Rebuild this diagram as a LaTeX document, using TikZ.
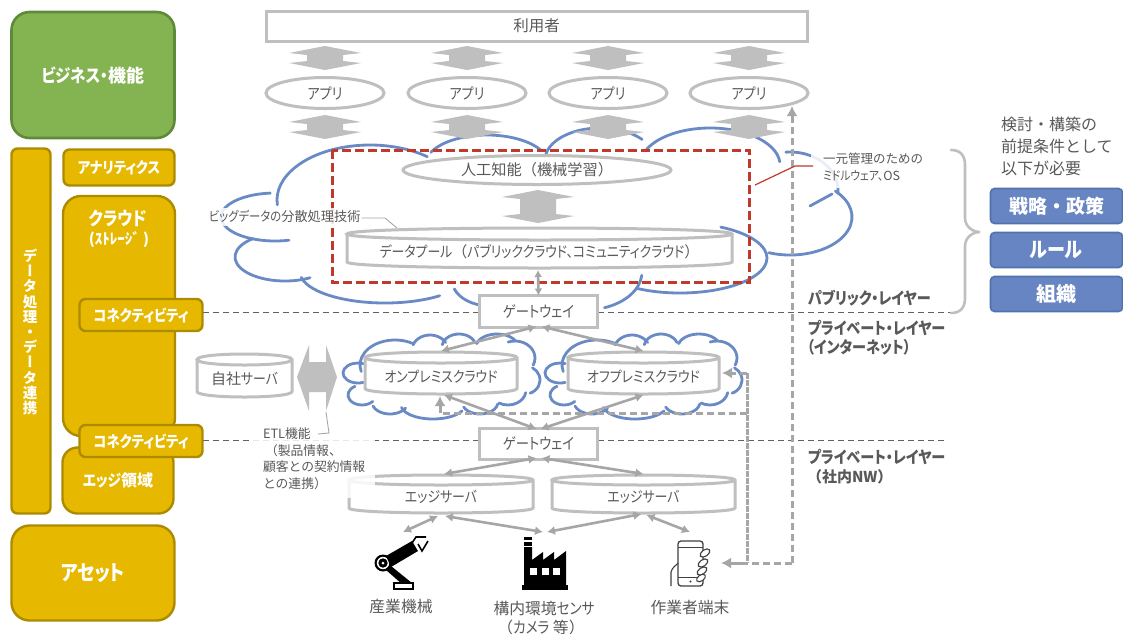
\documentclass[tikz,border=0pt]{standalone}
\usepackage{fontspec}
\usetikzlibrary{arrows.meta,calc,shapes.geometric}
\setmainfont{Noto Sans CJK JP}
\newfontfamily\kn[FakeStretch=0.86,RawFeature=+palt]{Noto Sans CJK JP}
\newfontfamily\vjp[RawFeature=+vert]{Noto Sans CJK JP}
\definecolor{txt}{HTML}{595959}
\definecolor{lgray}{HTML}{BFBFBF}
\definecolor{agray}{HTML}{A6A6A6}
\definecolor{gold}{HTML}{E6B800}
\definecolor{goldb}{HTML}{AD8B00}
\definecolor{grn}{HTML}{84B351}
\definecolor{grnb}{HTML}{5F8A3A}
\definecolor{cblue}{HTML}{6A8AC6}
\definecolor{bluef}{HTML}{6685C2}
\definecolor{blueb}{HTML}{5272AE}
\definecolor{redd}{HTML}{C0392B}
\tikzset{
  x=1pt,y=-1pt,
  every node/.style={inner sep=0pt,outer sep=0pt,text=txt},
  lab/.style={font=\fontsize{15.8}{19}\selectfont,align=center},
  gbox/.style={draw=lgray,line width=3pt,fill=white,font=\fontsize{15.5}{19}\selectfont},
  gell/.style={ellipse,draw=lgray,line width=3pt,fill=white,font=\fontsize{15.2}{19}\selectfont},
  yel/.style={draw=goldb,line width=2.4pt,fill=gold,rounded corners=6pt,text=white,font=\bfseries\fontsize{16}{18}\selectfont,align=center},
  bluebox/.style={draw=blueb,line width=1.6pt,fill=bluef,rounded corners=4pt,text=white,font=\bfseries\fontsize{19}{20}\selectfont,minimum width=132pt,minimum height=35pt},
  cloudline/.style={draw=cblue,line width=2.8pt,line cap=round},
  conn/.style={draw=agray,line width=2.6pt,{Latex[length=8pt,width=9pt]}-{Latex[length=8pt,width=9pt]}},
  dashg/.style={draw=agray,line width=3pt,dash pattern=on 7pt off 4pt},
  layer/.style={draw=black!62,line width=1pt,dash pattern=on 6pt off 4pt},
  lay/.style={font=\bfseries\fontsize{15}{18}\selectfont,anchor=west},
  note/.style={font=\fontsize{12.5}{16}\selectfont,align=left},
  blk/.style={fill=lgray,draw=none},
}
\newcommand{\cyl}[7]{%
  \path[fill=white,draw=lgray,line width=3pt]
    (#2,#3+#6/2) -- (#2,#5-#6/2) .. controls (#2,#5+#6/6) and (#4,#5+#6/6) .. (#4,#5-#6/2)
    -- (#4,#3+#6/2) .. controls (#4,#3-#6/6) and (#2,#3-#6/6) .. (#2,#3+#6/2)
    .. controls (#2,#3+#6*7/6) and (#4,#3+#6*7/6) .. (#4,#3+#6/2);
  \node[minimum width=#4pt-#2pt,minimum height=#5pt-#3pt] (#1) at ({(#2+#4)/2},{(#3+#5)/2}) {};
  \node[font=\fontsize{15}{19}\selectfont] (#1t) at ({(#2+#4)/2},{(#3+#5)/2+#6/3}) {#7};
}
\newcommand{\vblk}[3]{%
  \fill[blk] (#1,#2) -- (#1+36,#2+7) -- (#1+18,#2+9) -- (#1+18,#3-9) -- (#1+36,#3-7) -- (#1,#3)
    -- (#1-36,#3-7) -- (#1-18,#3-9) -- (#1-18,#2+9) -- (#1-36,#2+7) -- cycle;
}
\newcommand{\lb}[6]{\draw[cloudline] ({#1+#3*cos(#5)},{#2-#4*sin(#5)}) arc[start angle=#5,end angle=#6,x radius=#3pt,y radius=#4pt];}
\newcommand{\smallcloud}[1]{%
 \begin{scope}[xshift=#1pt]
  \lb{358}{373}{15}{10}{290}{70}
  \lb{362}{395}{14}{10}{120}{320}
  \lb{390}{402}{18}{12}{200}{330}
  \lb{433}{405}{32}{14}{190}{335}
  \lb{480}{402}{18}{12}{205}{350}
  \lb{508}{390}{18}{15}{240}{350}
  \lb{525}{380}{15}{14}{-70}{60}
  \lb{515}{358}{20}{17}{-25}{110}
  \lb{497}{347}{21}{13}{30}{165}
  \lb{459}{347}{17}{13}{20}{170}
  \lb{430}{350}{18}{15}{30}{160}
  \lb{395}{365}{35}{25}{60}{195}
 \end{scope}
}
\begin{document}
\begin{tikzpicture}
\path[use as bounding box,fill=white] (0,0) rectangle (1123,633);

% layer lines
\draw[layer] (203,312) -- (479,312);
\draw[layer] (598,312) -- (951,312);
\draw[layer] (203,440) -- (479,440);
\draw[layer] (598,440) -- (945,440);

% big cloud
\lb{370}{200}{93}{55}{52}{185}
\lb{275}{217}{54}{24}{95}{285}
\lb{285}{257}{50}{24}{130}{300}
\lb{385}{272}{85}{31}{190}{310}
\lb{490}{280}{38}{26}{200}{265}
\lb{585}{272}{57}{38}{290}{355}
\lb{680}{258}{87}{35}{240}{422}
\lb{790}{217}{62}{38}{250}{403}
\lb{790}{190}{48}{38}{-5}{95}
\lb{710}{165}{70}{37}{5}{155}
\lb{600}{160}{55}{32}{40}{172}
\lb{487}{165}{62}{30}{30}{155}
\coordinate (tl1) at (810,206);
\coordinate (tl2) at (832,194);
\draw[cloudline] (tl1) -- (tl2);

% small clouds
\smallcloud{0}
\smallcloud{202}

% top
\node[gbox,minimum width=541pt,minimum height=30pt] (user) at (536.5,26) {利用者};
\foreach \cx in {325,467,608,749}{\vblk{\cx}{46}{70}}
\foreach \cx in {325,467,608,749}{\vblk{\cx}{115}{139}}
\node[gell,minimum width=118pt,minimum height=31pt] (a1) at (325,93) {\kn アプリ};
\node[gell,minimum width=118pt,minimum height=31pt] (a2) at (467,93) {\kn アプリ};
\node[gell,minimum width=118pt,minimum height=31pt] (a3) at (608,93) {\kn アプリ};
\node[gell,minimum width=118pt,minimum height=31pt] (a4) at (749,93) {\kn アプリ};

\node[gell,minimum width=268pt,minimum height=29pt] (ai) at (537,170) {人工知能（機械学習）};
\vblk{538}{190}{223}
\cyl{pool}{347}{228}{732}{268}{12}{{\kn データプール}（{\kn パブリッククラウド、コミュニティクラウド}）}

% red frame
\draw[redd,line width=3pt,dash pattern=on 9pt off 4pt] (332,150) rectangle (749,282);

% gateways
\node[gbox,minimum width=118pt,minimum height=32pt] (gw1) at (538.5,311.5) {\kn ゲートウェイ};
\node[gbox,minimum width=118pt,minimum height=31pt] (gw2) at (538.5,443.5) {\kn ゲートウェイ};

% cylinders
\cyl{own}{197}{354}{292}{397}{11}{自社{\kn サーバ}}
\cyl{onp}{365}{352}{517}{394}{11}{{\kn オンプレミスクラウド}}
\cyl{off}{568}{352}{719}{394}{11}{{\kn オフプレミスクラウド}}
\cyl{eg1}{349}{475}{533}{513}{10}{{\kn エッジサーバ}}
\cyl{eg2}{552}{475}{735}{513}{10}{{\kn エッジサーバ}}

% ETL double arrow
\fill[blk] (297,377) -- (309,345) -- (309,362) -- (326,362) -- (326,345) -- (337,377)
  -- (326,411) -- (326,392) -- (309,392) -- (309,411) -- cycle;

% dashed paths
\coordinate (dj1) at (747,373);
\coordinate (dj2) at (747,413);
\coordinate (dj3) at (747,563);
\coordinate (dj4) at (792,563);
\coordinate (dj5) at (792,106);
\coordinate (dj6) at (440,413);
\coordinate (ph) at (721,563);
\coordinate (dj7) at (440,396);
\coordinate (dj8) at (792,118);
\coordinate (dj9) at (732,373);
\coordinate (dj10) at (722,373);
\draw[dashg] (dj1) -- (dj9);
\draw[draw=agray,line width=3pt,-{Latex[length=10pt,width=11pt]}] (dj9) -- (dj10);
\draw[dashg,dash pattern=on 6pt off 1pt] (dj1) -- (dj3);
\draw[dashg] (dj2) -- (dj6);
\draw[draw=agray,line width=3pt,-{Latex[length=10pt,width=11pt]}] (dj6) -- (dj7);
\draw[dashg] (dj4) -- (dj8);
\draw[draw=agray,line width=3pt,-{Latex[length=10pt,width=11pt]}] (dj8) -- (dj5);
\draw[dashg] (dj4) -- (dj3);
\draw[draw=agray,line width=3pt,-{Latex[length=10pt,width=11pt]}] (dj3) -- (ph);

% connectors
\draw[conn,{Latex[length=7pt,width=8pt]}-{Latex[length=7pt,width=8pt]}] (538,270) -- (gw1.north);
\draw[conn] ([xshift=-2pt,yshift=1pt]gw1.south) -- ([yshift=1pt]onp.north);
\draw[conn] ([xshift=3pt,yshift=1pt]gw1.south) -- ([yshift=1pt]off.north);
\draw[conn] ([xshift=-2pt,yshift=-1pt]gw2.north) -- ([xshift=3pt,yshift=-1pt]onp.south);
\draw[conn] ([xshift=2pt,yshift=-1pt]gw2.north) -- ([yshift=-1pt]off.south);
\draw[conn] ([xshift=-2pt,yshift=1pt]gw2.south) -- ([xshift=3pt,yshift=1pt]eg1.north);
\draw[conn] ([xshift=3pt,yshift=1pt]gw2.south) -- ([yshift=1pt]eg2.north);
\coordinate (rob) at (403,532);
\coordinate (fac) at (543,532);
\coordinate (fac2) at (547,532);
\coordinate (pho) at (690,532);
\draw[conn] ([xshift=-3pt,yshift=-3pt]eg1.south) -- (rob);
\draw[conn] ([xshift=4pt,yshift=-3pt]eg1.south) -- (fac);
\draw[conn] ([xshift=-2pt,yshift=-1pt]eg2.south) -- (fac2);
\draw[conn] ([xshift=3pt,yshift=-2pt]eg2.south) -- (pho);

% notes
\fill[white,opacity=.85] (198,208) rectangle (366,226);
\node[note,anchor=west,font=\fontsize{13.2}{16}\selectfont] (bd) at (209,216) {{\kn ビッグデータの}分散処理技術};
\coordinate (bd1) at (385,218);
\coordinate (bd2) at (397,228);
\draw[agray,line width=.9pt] (bd.east) ++(1,2) -- (bd1) -- (bd2);
\fill[white,opacity=.85] (811,145) rectangle (933,188);
\node[note,anchor=west,font=\fontsize{12.5}{16.5}\selectfont] (mw) at (823,167) {一元管理のための\\{\kn ミドルウェア、}OS};
\coordinate (r1) at (755,185);
\coordinate (r2) at (795,166);
\coordinate (r3) at (813,166);
\draw[redd,line width=1.2pt] (r1) -- (r2) -- (r3);
\fill[white,opacity=.85] (252,422) rectangle (375,498);
\node[note,anchor=north west,font=\fontsize{12.8}{16.5}\selectfont] (etl) at (263,428) {ETL機能\\\hspace{2pt}（製品情報、\\顧客との契約情報\\との連携）};
\coordinate (e1) at (326,412);
\coordinate (e2) at (329,433);
\coordinate (e3) at (318,434);
\draw[agray,line width=.9pt] (e1) -- (e2) -- (e3);

% layer labels
\node[lay,font=\bfseries\kn\fontsize{16.4}{18}\selectfont] (l1) at (808,298) {パブリック・レイヤー};
\node[lay,font=\bfseries\kn\fontsize{16.4}{18}\selectfont] (l2) at (808,328) {プライベート・レイヤー};
\node[lay] (l3) at (807,347) {{\kn\fontsize{16.4}{18}\selectfont （インターネット）}};
\node[lay,font=\bfseries\kn\fontsize{16.4}{18}\selectfont] (l4) at (808,457) {プライベート・レイヤー};
\node[lay] (l5) at (807,477) {（社内NW）};

% left column
\node[draw=grnb,line width=2.6pt,fill=grn,rounded corners=18pt,minimum width=163pt,minimum height=126pt,text=white,font=\bfseries\fontsize{18}{20}\selectfont] (biz) at (93,75) {{\kn ビジネス・}機能};
\node[yel,minimum width=39pt,minimum height=365pt] (dp) at (31,331) {};
\node[text=white,font=\vjp\bfseries\fontsize{14.5}{15.2}\selectfont,align=center] (dpt) at (30,332) {デ\\ー\\タ\\処\\理\\・\\デ\\ー\\タ\\連\\携};
\node[yel,minimum width=111pt,minimum height=36pt,font=\bfseries\kn\fontsize{15.5}{18}\selectfont] (an) at (119,167.5) {アナリティクス};
\node[yel,rounded corners=15pt,minimum width=111pt,minimum height=66pt] (edge) at (118,480.5) {\raisebox{-2pt}{{\kn エッジ}領域}};
\node[yel,rounded corners=18pt,minimum width=112pt,minimum height=240pt] (cl) at (119,316) {};
\node[text=white,font=\bfseries\kn\fontsize{18.5}{20}\selectfont] (clt) at (118,218) {クラウド};
\node[text=white,font=\bfseries\fontsize{15}{18}\selectfont] (clt2) at (119,240) {(ｽﾄﾚｰｼﾞ )};
\node[yel,minimum width=123pt,minimum height=32pt,font=\bfseries\kn\fontsize{15.5}{18}\selectfont] (c1) at (141,315) {コネクティビティ};
\node[yel,minimum width=123pt,minimum height=32pt,font=\bfseries\kn\fontsize{15.5}{18}\selectfont] (c2) at (141,441) {コネクティビティ};
\node[yel,rounded corners=18pt,minimum width=163pt,minimum height=95pt,font=\bfseries\kn\fontsize{21}{22}\selectfont] (as) at (93,573) {アセット};

% right
\node[anchor=north west,font=\fontsize{16}{22.2}\selectfont,align=left] (cond) at (1001,116.5) {検討・構築の\\前提条件として\\以下が必要};
\draw[lgray,line width=2.6pt,line cap=round] (951,150) .. controls (960,150) and (965,155) .. (965,165)
  -- (965,218) .. controls (965,226) and (972,232) .. (980,232) .. controls (972,232) and (965,238) .. (965,246)
  -- (965,298) .. controls (965,308) and (960,313) .. (951,313);
\node[bluebox] (s1) at (1056.5,206) {戦略・政策};
\node[bluebox,font=\bfseries\kn\fontsize{21}{22}\selectfont] (s2) at (1056.5,250) {ルール};
\node[bluebox,font=\bfseries\fontsize{20}{22}\selectfont] (s3) at (1056.5,294) {組織};

% robot
\fill[black] (383,563) circle (8.5);
\fill[white] (383,563) circle (6.2);
\fill[black] (383,563) circle (4.7);
\fill[white] (383,563) circle (1.5);
\fill[black] (386,556) -- (412,541) -- (418,551) -- (391,567) -- cycle;
\fill[black] (386,570) -- (391,566) -- (412,583) -- (402,584) -- cycle;
\draw[black,line width=1.4pt,fill=white] (394,583) rectangle (413,589);
\draw[black,line width=1.6pt] (412,543) -- (416,537) -- (426,537) (418,544) -- (422,551) -- (428,541);

% factory
\fill[black] (522,585) rectangle (568,590);
\fill[black] (524,586) -- (524,547) -- (532,547) -- (532,560) -- (543,552) -- (543,560) -- (554,552) -- (554,560) -- (566,551) -- (566,586) -- cycle;
\fill[black] (524,537) rectangle (532,540);
\fill[black] (524,542) rectangle (532,546);
\fill[white] (530,568) rectangle (537,575);
\fill[white] (542,568) rectangle (549,575);
\fill[white] (553,568) rectangle (560,575);

% phone
\draw[black!75,line width=1.3pt,rounded corners=3pt] (678,586) -- (678,541) -- (703,541) -- (703,586) -- cycle;
\draw[black!75,line width=1pt] (678,547) -- (703,547) (678,577) -- (703,577);
\fill[black!75] (690.5,581.5) circle (1.2);
\draw[black!75,line width=1.1pt,fill=white,rotate around={35:(705,553)}] (705,553) ellipse (5.5 and 3.2);
\draw[black!75,line width=1.1pt,fill=white,rotate around={35:(703,563)}] (703,563) ellipse (5.5 and 3.2);
\draw[black!75,line width=1.1pt,fill=white,rotate around={35:(702,571)}] (702,571) ellipse (5.5 and 3.2);
\draw[black!75,line width=1.1pt,fill=white,rotate around={35:(701,578)}] (701,578) ellipse (5 and 3);
\draw[black!75,line width=1.1pt] (671,586) -- (671,572) .. controls (672,567) and (677,565) .. (678,563);

% icon labels
\node[lab] (t1) at (401,606) {産業機械};
\node[lab] (t2) at (544,608) {構内環境{\kn センサ}};
\node[lab] (t3) at (541,627) {（{\kn カメラ} 等）};
\node[lab] (t4) at (690,607) {作業者端末};
\end{tikzpicture}
\end{document}
